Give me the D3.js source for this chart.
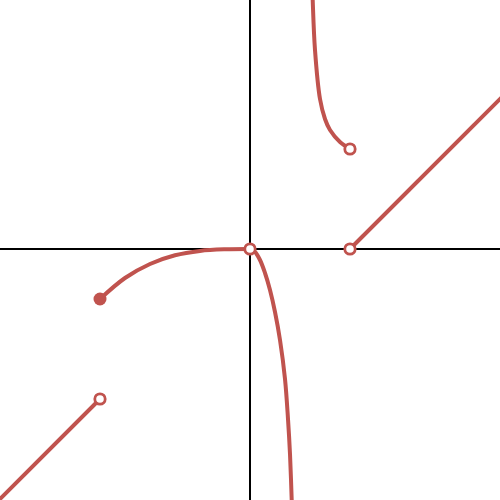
<!DOCTYPE html>
<html>
<head>
<meta charset="utf-8">
<script src="https://cdn.jsdelivr.net/npm/d3@7"></script>
<style>
  html, body { margin: 0; padding: 0; background: #fff; }
  svg { display: block; }
</style>
</head>
<body>
<svg id="chart" width="500" height="500"></svg>
<script>
// Piecewise function pieces
const pieceLeftLine = [[-2.6, -2.6], [-1.5, -1.5]];
const pieceLeftCurve = [[-1.5, -0.5], [-1.25, -0.29], [-1.0, -0.15], [-0.75, -0.063], [-0.5, -0.019], [-0.25, -0.003], [0, 0]];
const pieceMidLower = [[0, 0], [0.05, -0.03], [0.1, -0.11], [0.15, -0.24], [0.2, -0.41], [0.25, -0.63], [0.3, -0.91], [0.35, -1.3], [0.38, -1.7], [0.4, -2.05], [0.417, -2.51], [0.43, -2.9]];
const pieceMidUpper = [[0.615, 2.9], [0.627, 2.49], [0.65, 1.99], [0.7, 1.5], [0.75, 1.3], [0.8, 1.19], [0.9, 1.07], [1.0, 1.0]];
const pieceRightLine = [[1, 0], [2.6, 1.6]];
const filledPoints = [[-1.5, -0.5]];
const openPoints = [[-1.5, -1.5], [0, 0], [1, 0], [1, 1]];

const W = 500, H = 500;
const color = "#c0534e";
const svg = d3.select("#chart");
const x = d3.scaleLinear().domain([-2.5, 2.5]).range([0, W]);
const y = d3.scaleLinear().domain([-2.51, 2.49]).range([H, 0]);

svg.append("defs").append("clipPath").attr("id", "clip")
  .append("rect").attr("x", 0).attr("y", 0).attr("width", W).attr("height", H);

// axes
svg.append("line").attr("x1", 0).attr("x2", W).attr("y1", y(0)).attr("y2", y(0))
  .attr("stroke", "#000").attr("stroke-width", 2);
svg.append("line").attr("x1", x(0)).attr("x2", x(0)).attr("y1", 0).attr("y2", H)
  .attr("stroke", "#000").attr("stroke-width", 2);

const g = svg.append("g").attr("clip-path", "url(#clip)");
const line = d3.line().x(d => x(d[0])).y(d => y(d[1])).curve(d3.curveCatmullRom.alpha(0.5));

[pieceLeftLine, pieceLeftCurve, pieceMidLower, pieceMidUpper, pieceRightLine].forEach(p => {
  g.append("path").datum(p).attr("d", line)
    .attr("fill", "none").attr("stroke", color).attr("stroke-width", 4)
    .attr("stroke-linecap", "round").attr("stroke-linejoin", "round");
});

g.selectAll("circle.filled").data(filledPoints).join("circle")
  .attr("class", "filled")
  .attr("cx", d => x(d[0])).attr("cy", d => y(d[1])).attr("r", 6.5)
  .attr("fill", color);

g.selectAll("circle.open").data(openPoints).join("circle")
  .attr("class", "open")
  .attr("cx", d => x(d[0])).attr("cy", d => y(d[1])).attr("r", 5.2)
  .attr("fill", "#fff").attr("stroke", color).attr("stroke-width", 2.8);
</script>
</body>
</html>
